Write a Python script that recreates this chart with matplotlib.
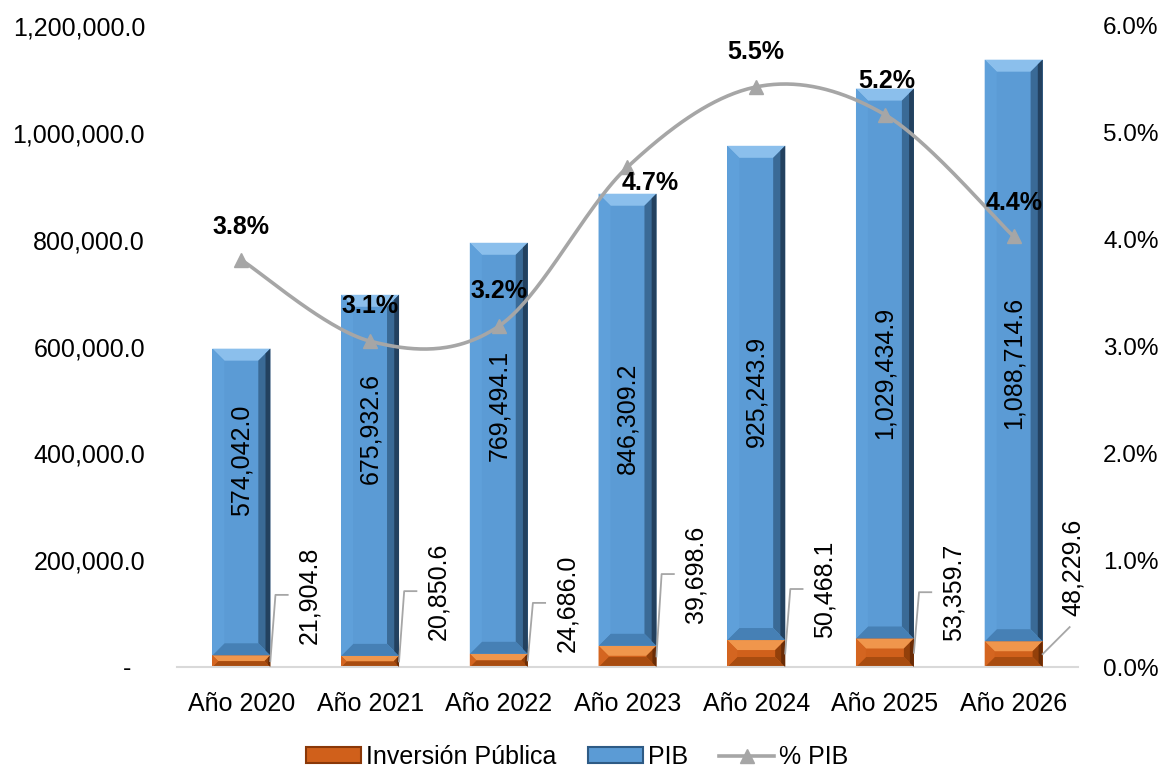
import matplotlib
matplotlib.use("Agg")
import matplotlib.pyplot as plt
import numpy as np
from matplotlib.patches import Polygon, Patch
from matplotlib.lines import Line2D

plt.rcParams['font.family'] = ['Liberation Sans', 'DejaVu Sans']

# ---------------- data ----------------
years = ['Año 2020', 'Año 2021', 'Año 2022', 'Año 2023', 'Año 2024', 'Año 2025', 'Año 2026']
inversion = [21904.8, 20850.6, 24686.0, 39698.6, 50468.1, 53359.7, 48229.6]
pib = [574042.0, 675932.6, 769494.1, 846309.2, 925243.9, 1029434.9, 1088714.6]
pct_pib = [3.81, 3.05, 3.19, 4.68, 5.43, 5.17, 4.03]
pct_labels = ['3.8%', '3.1%', '3.2%', '4.7%', '5.5%', '5.2%', '4.4%']

# label placement (style)
pib_label_y = [387e3, 447e3, 490e3, 466e3, 515e3, 550e3, 569e3]
inv_label_y = [135e3, 142e3, 120e3, 174e3, 146e3, 140e3, 187e3]
pct_offsets = [(0, 24), (0, 25), (0, 25), (16, -11.5), (0, 25), (1, 24), (0, 24)]

W, H = 1164, 769
fig = plt.figure(figsize=(W / 100, H / 100), dpi=100)
fig.patch.set_facecolor('white')
ax_l, ax_r, ax_b, ax_t = 177, 1078, 667, 26
ax = fig.add_axes([ax_l / W, 1 - ax_b / H, (ax_r - ax_l) / W, (ax_b - ax_t) / H])

x = np.arange(len(years))
bw = 0.45
ymax = 1.2e6
ax.set_xlim(-0.5, len(years) - 0.5)
ax.set_ylim(0, ymax)

BLUE = dict(base='#5B9BD5', top='#8BBFEC', right='#3A6A96', bottom='#4680B5', left='#5FA0DA')
ORANGE = dict(base='#D0601B', top='#F0964C', right='#93400A', bottom='#A84C10', left='#D46520')

bars_inv = ax.bar(x, inversion, bw, color=ORANGE['base'], zorder=2, linewidth=0)
bars_pib = ax.bar(x, pib, bw, bottom=inversion, color=BLUE['base'], zorder=2, linewidth=0)

px_x = (ax_r - ax_l) / len(years)
px_y = (ax_b - ax_t) / ymax


def bevel(rect, c, dpx=13):
    x0, y0 = rect.get_x(), rect.get_y()
    w, h = rect.get_width(), rect.get_height()
    x1, y1 = x0 + w, y0 + h
    hpx = h * px_y
    d = min(dpx, hpx / 2.0)
    dx = d / px_x
    dy = d / px_y
    polys = [
        ([(x0, y1), (x1, y1), (x1 - dx, y1 - dy), (x0 + dx, y1 - dy)], c['top']),
        ([(x1, y1), (x1, y0), (x1 - dx, y0 + dy), (x1 - dx, y1 - dy)], c['right']),
        ([(x0, y0), (x1, y0), (x1 - dx, y0 + dy), (x0 + dx, y0 + dy)], c['bottom']),
        ([(x0, y0), (x0, y1), (x0 + dx, y1 - dy), (x0 + dx, y0 + dy)], c['left']),
    ]
    for pts, col in polys:
        ax.add_patch(Polygon(pts, closed=True, facecolor=col, edgecolor='none', zorder=2.5))
    # darker outer right band
    ax.add_patch(Polygon([(x1, y1), (x1, y0), (x1 - dx / 2.5, y0 + dy / 2.5), (x1 - dx / 2.5, y1 - dy / 2.5)],
                         closed=True, facecolor='#23415F' if c is BLUE else '#6A2C06',
                         edgecolor='none', zorder=2.55))


for r in bars_inv:
    bevel(r, ORANGE, 10)
for r in bars_pib:
    bevel(r, BLUE, 12)

# PIB labels
for i, v in enumerate(pib):
    ax.text(x[i], pib_label_y[i], f'{v:,.1f}', rotation=90, ha='center', va='center',
            fontsize=18, color='black', zorder=5)

# Inversion labels with leader lines
lead_col = '#A6A6A6'
for i, v in enumerate(inversion):
    ly = inv_label_y[i]
    xr = x[i] + bw / 2
    if i < len(years) - 1:
        ax.text(x[i] + 0.53, ly, f'{v:,.1f}', rotation=90, ha='center', va='center',
                fontsize=18, color='black', zorder=5)
        ax.plot([xr, xr + 0.04, xr + 0.135], [v / 2, ly, ly], color=lead_col, lw=1.3, zorder=4)
    else:
        ax.text(x[i] + 0.46, ly, f'{v:,.1f}', rotation=90, ha='center', va='center',
                fontsize=18, color='black', zorder=5)
        ax.plot([xr, xr + 0.21], [v / 2, v / 2 + 27 / px_y], color=lead_col, lw=1.3, zorder=4)

ax.set_xticks(x)
ax.set_xticklabels(years, fontsize=18)
yt = np.arange(0, 1.2e6 + 1, 2e5)
ax.set_yticks(yt)
ax.set_yticklabels(['-  ' if t == 0 else f'{t:,.1f}' for t in yt], fontsize=18)
ax.tick_params(axis='both', length=0)
ax.tick_params(axis='y', pad=23)
ax.tick_params(axis='x', pad=18)
for s in ['top', 'right', 'left']:
    ax.spines[s].set_visible(False)
ax.spines['bottom'].set_color('#D9D9D9')
ax.spines['bottom'].set_linewidth(1.5)
ax.patch.set_alpha(0)

# secondary axis
ax2 = ax.twinx()
ax2.set_ylim(0, 6)
ax2.set_yticks(np.arange(0, 6.01, 1))
ax2.set_yticklabels([f'{t:.1f}%' for t in np.arange(0, 6.01, 1)], fontsize=17.5)
ax2.tick_params(axis='y', length=0, pad=18)
for s in ax2.spines.values():
    s.set_visible(False)

# Excel-like smoothed line (Catmull-Rom bezier)
P = np.column_stack([x.astype(float), np.array(pct_pib)])
curve = []
n = len(P)
for i in range(n - 1):
    p0 = P[i - 1] if i > 0 else P[i]
    p1 = P[i]
    p2 = P[i + 1]
    p3 = P[i + 2] if i + 2 < n else P[i + 1]
    c1 = p1 + (p2 - p0) / 6.0
    c2 = p2 - (p3 - p1) / 6.0
    t = np.linspace(0, 1, 60)[:, None]
    seg = ((1 - t) ** 3) * p1 + 3 * ((1 - t) ** 2) * t * c1 + 3 * (1 - t) * t ** 2 * c2 + t ** 3 * p2
    curve.append(seg if i == 0 else seg[1:])
curve = np.vstack(curve)
LINE = '#A6A6A6'
ax2.plot(curve[:, 0], curve[:, 1], color=LINE, lw=2.6, zorder=3, solid_capstyle='round')
ax2.plot(x, pct_pib, linestyle='none', marker='^', markersize=10, color=LINE, zorder=4)

for i, v in enumerate(pct_pib):
    ax2.annotate(pct_labels[i], (x[i], v), xytext=pct_offsets[i], textcoords='offset points',
                 ha='center', va='center', fontsize=18, fontweight='bold', color='black', zorder=6)

# legend
handles = [
    Patch(facecolor=ORANGE['base'], edgecolor='#8A3808', linewidth=1.5),
    Patch(facecolor=BLUE['base'], edgecolor='#2E5B85', linewidth=1.5),
    Line2D([0], [0], color=LINE, lw=2.6, marker='^', markersize=10),
]
fig.legend(handles, ['Inversión Pública', 'PIB', '% PIB'], loc='center',
           bbox_to_anchor=(0.496, 1 - 757 / H), ncol=3, frameon=False, fontsize=18,
           handlelength=2.2, handleheight=0.6, handletextpad=0.2, columnspacing=1.25)

fig.savefig('out.png', dpi=100, facecolor='white')
